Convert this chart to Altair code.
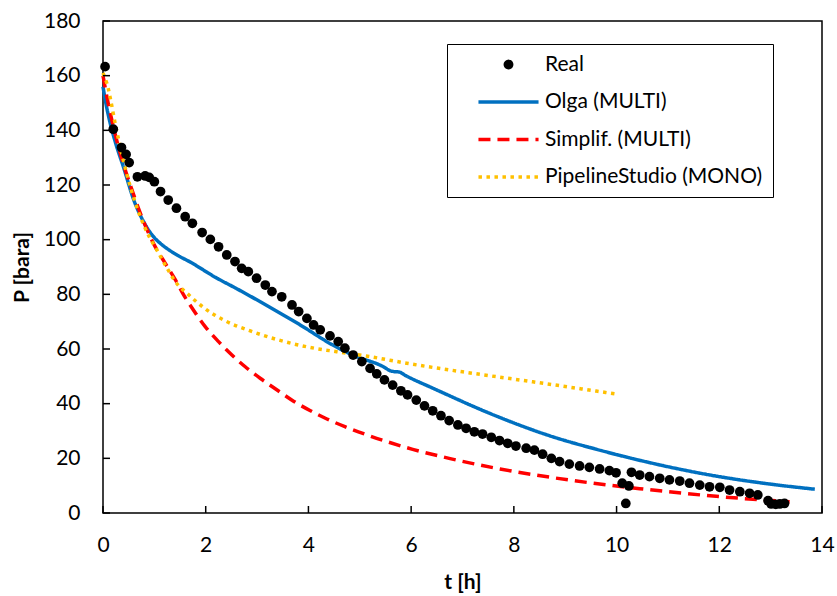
import altair as alt
import pandas as pd

# ---------------- data ----------------
real_t = [0.04, 0.2, 0.36, 0.45, 0.51, 0.67, 0.82, 0.9, 1.0, 1.12, 1.27, 1.43, 1.6, 1.74,
          1.93, 2.09, 2.25, 2.41, 2.57, 2.70, 2.83, 2.99, 3.16, 3.29, 3.48, 3.68, 3.81,
          3.97, 4.10, 4.23, 4.42, 4.58, 4.71, 4.87, 5.04, 5.20, 5.33, 5.48, 5.64, 5.80,
          5.93, 6.10, 6.26, 6.42, 6.58, 6.74, 6.91, 7.07, 7.23, 7.39, 7.56, 7.72, 7.88,
          8.04, 8.24, 8.40, 8.56, 8.73, 8.89, 9.08, 9.28, 9.47, 9.67, 9.86, 9.99, 10.11,
          10.18, 10.24, 10.29, 10.45, 10.64, 10.84, 11.03, 11.23, 11.42, 11.62, 11.81,
          12.01, 12.2, 12.4, 12.59, 12.75, 12.95, 13.01, 13.1, 13.18, 13.27]
real_p = [163.3, 140.4, 133.7, 131.2, 128.2, 123.0, 123.3, 122.8, 121.2, 117.6, 114.5, 111.5,
          108.4, 106.0, 102.6, 100.1, 97.4, 94.4, 92.0, 89.5, 88.3, 85.9, 83.4, 81.0, 79.1,
          76.1, 73.7, 71.2, 68.8, 67.0, 64.8, 62.7, 60.3, 57.8, 55.4, 52.9, 50.9, 48.7,
          46.8, 44.7, 43.2, 41.3, 39.2, 37.4, 35.6, 33.8, 32.2, 31.0, 29.7, 28.9, 27.7,
          26.5, 25.5, 24.5, 23.7, 23.0, 21.5, 20.0, 18.8, 17.9, 17.2, 16.7, 16.1, 15.5,
          14.7, 10.9, 3.5, 9.9, 14.9, 13.9, 13.3, 12.7, 12.1, 11.7, 10.9, 10.2, 9.6, 9.4,
          8.4, 7.8, 7.2, 6.6, 4.5, 3.3, 3.2, 3.3, 3.5]

olga_t = [0.0, 0.05, 0.14, 0.25, 0.40, 0.60, 0.79, 0.92, 1.02, 1.12, 1.44, 1.68, 2.22, 2.59,
          3.06, 3.84, 4.47, 4.86, 5.46, 5.60, 5.68, 5.76, 5.90, 6.43, 7.72, 8.69, 9.67,
          10.65, 11.94, 12.90, 13.86]
olga_p = [156.0, 150.5, 142.6, 135.1, 126.5, 114.5, 106.6, 102.6, 100.3, 98.6, 94.4, 92.0,
          85.9, 82.2, 77.3, 68.8, 61.5, 57.8, 53.5, 52.0, 51.7, 51.6, 50.2, 45.6, 35.0,
          28.3, 23.0, 18.4, 13.5, 10.8, 8.7]

simp_t = [0.0, 0.1, 0.2, 0.3, 0.4, 0.55, 0.7, 0.85, 1.0, 1.21, 1.41, 1.57, 1.76, 1.99, 2.25,
          2.51, 2.77, 3.06, 3.39, 3.71, 4.03, 4.36, 4.71, 5.12, 6.03, 6.76, 7.73, 8.70,
          9.67, 10.45, 11.94, 13.37]
simp_p = [160.0, 150.0, 141.5, 134.0, 127.5, 119.0, 111.0, 104.0, 98.0, 91.4, 85.3, 79.8,
          74.3, 68.2, 62.7, 57.8, 53.5, 49.3, 45.0, 40.9, 37.5, 34.4, 31.6, 28.7, 23.3,
          19.9, 16.1, 13.1, 10.6, 8.9, 6.1, 4.1]

pipe_t = [0.0, 0.04, 0.08, 0.15, 0.25, 0.38, 0.54, 0.70, 0.90, 1.04, 1.25, 1.41, 1.67, 2.02,
          2.38, 2.87, 3.42, 3.97, 4.55, 5.2, 5.91, 7.2, 8.37, 9.57, 10.0]
pipe_p = [161.0, 159.0, 157.0, 151.0, 141.3, 130.4, 118.8, 109.7, 101.1, 96.5, 89.5, 84.6,
          79.8, 74.3, 70.3, 66.6, 63.3, 60.8, 59.0, 57.2, 54.8, 51.1, 48.0, 44.7, 43.5]

series_names = ["Real", "Olga (MULTI)", "Simplif. (MULTI)", "PipelineStudio (MONO)"]
x_ticks = [0, 2, 4, 6, 8, 10, 12, 14]
y_ticks = [0, 20, 40, 60, 80, 100, 120, 140, 160, 180]

# ---------------- styles ----------------
colors = ["#000000", "#0070C0", "#FF0000", "#FFC000"]
dashes = [[1, 0], [1, 0], [12, 7], [3.5, 4.5]]
shapes = ["circle", "M-9.5,0H9.5", "M-9.5,0H9.5", "M-9.5,0H9.5"]
FONT = "Lato"
FS = 21
TICK_LEN = 7

real_df = pd.DataFrame({"t": real_t, "P": real_p, "series": "Real"})
lines_df = pd.concat([
    pd.DataFrame({"t": olga_t, "P": olga_p, "series": series_names[1]}),
    pd.DataFrame({"t": simp_t, "P": simp_p, "series": series_names[2]}),
    pd.DataFrame({"t": pipe_t, "P": pipe_p, "series": series_names[3]}),
], ignore_index=True)
xtick_df = pd.DataFrame({"t": x_ticks})
ytick_df = pd.DataFrame({"P": y_ticks})

x_enc = alt.X("t:Q", scale=alt.Scale(domain=[0, 14], nice=False),
              axis=alt.Axis(title="t [h]", values=x_ticks, domain=False, grid=False,
                            ticks=True, tickSize=0, labelPadding=21,
                            labelFlush=False,
                            titleY=69, titleBaseline="middle"))
y_enc = alt.Y("P:Q", scale=alt.Scale(domain=[0, 180], nice=False),
              axis=alt.Axis(title="P [bara]", values=y_ticks, domain=False, grid=False,
                            ticks=True, tickSize=0, labelPadding=23,
                            labelFlush=False,
                            titleX=-81, titleBaseline="middle"))

color_enc = alt.Color("series:N", title=None,
                      scale=alt.Scale(domain=series_names, range=colors))

lines = alt.Chart(lines_df).mark_line(strokeWidth=3.5, interpolate="monotone").encode(
    x=x_enc, y=y_enc, color=color_enc,
    strokeDash=alt.StrokeDash("series:N", title=None,
                              scale=alt.Scale(domain=series_names, range=dashes)),
    detail="series:N",
)

points = alt.Chart(real_df).mark_point(filled=True, size=95, opacity=1).encode(
    x=x_enc, y=y_enc, color=color_enc,
    shape=alt.Shape("series:N", title=None,
                    scale=alt.Scale(domain=series_names, range=shapes)),
)

# inward-pointing tick marks, placed through the axes' own scales
x_tick_marks = alt.Chart(xtick_df).mark_tick(
    orient="vertical", size=TICK_LEN, thickness=1.5, color="black", opacity=1,
    yOffset=-TICK_LEN / 2,
).encode(x=x_enc, y=alt.datum(0))

y_tick_marks = alt.Chart(ytick_df).mark_tick(
    orient="horizontal", size=TICK_LEN, thickness=1.5, color="black", opacity=1,
    xOffset=TICK_LEN / 2,
).encode(y=y_enc, x=alt.datum(0))

chart = alt.layer(lines, points, x_tick_marks, y_tick_marks).properties(
    width=719, height=492,
    autosize=alt.AutoSizeParams(type="none"),
    padding={"left": 103, "top": 21, "right": 15, "bottom": 83},
).configure_view(
    stroke="black", strokeWidth=1.5
).configure_axis(
    labelFont=FONT, labelFontSize=FS, labelColor="black",
    titleFont=FONT, titleFontSize=FS, titleFontWeight="bold", titleColor="black",
).configure_legend(
    orient="none", legendX=344, legendY=23,
    strokeColor="black", fillColor="white", padding=10,
    symbolSize=40, symbolStrokeWidth=3.5, symbolOffset=41,
    labelOffset=26, labelFont=FONT, labelFontSize=FS, labelColor="black",
    labelLimit=500, rowPadding=15.5,
)

chart.save("out.html", embed_options={"renderer": "svg", "actions": False})
